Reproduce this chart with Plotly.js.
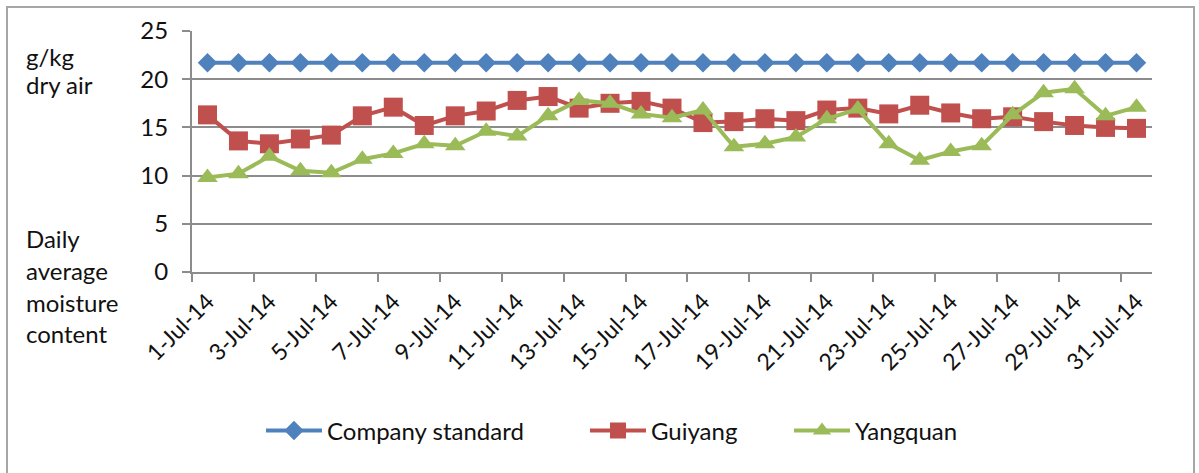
<!DOCTYPE html>
<html>
<head>
<meta charset="utf-8">
<script src="https://cdn.plot.ly/plotly-3.0.1.min.js"></script>
<style>
  html, body { margin: 0; padding: 0; background: #fff; }
  #wrap { position: relative; width: 1199px; height: 473px; overflow: hidden; }
  #chart { position: absolute; left: 0; top: 0; width: 1199px; height: 473px; }
  #frame { position: absolute; left: 6px; top: 6px; width: 1189px; height: 480px;
           border: 2px solid #a6a6a6; pointer-events: none; box-sizing: border-box; }
</style>
</head>
<body>
<div id="wrap">
  <div id="chart"></div>
  <div id="frame"></div>
</div>
<script>
const dates = ["1-Jul-14","2-Jul-14","3-Jul-14","4-Jul-14","5-Jul-14","6-Jul-14","7-Jul-14","8-Jul-14",
  "9-Jul-14","10-Jul-14","11-Jul-14","12-Jul-14","13-Jul-14","14-Jul-14","15-Jul-14","16-Jul-14",
  "17-Jul-14","18-Jul-14","19-Jul-14","20-Jul-14","21-Jul-14","22-Jul-14","23-Jul-14","24-Jul-14",
  "25-Jul-14","26-Jul-14","27-Jul-14","28-Jul-14","29-Jul-14","30-Jul-14","31-Jul-14"];

const companyStandard = [21.7,21.7,21.7,21.7,21.7,21.7,21.7,21.7,21.7,21.7,21.7,21.7,21.7,21.7,21.7,21.7,
  21.7,21.7,21.7,21.7,21.7,21.7,21.7,21.7,21.7,21.7,21.7,21.7,21.7,21.7,21.7];

const guiyang = [16.3,13.6,13.3,13.8,14.2,16.2,17.1,15.2,16.2,16.7,17.8,18.2,17.0,17.5,17.7,17.0,
  15.5,15.6,15.9,15.7,16.8,17.0,16.4,17.3,16.5,15.9,16.1,15.6,15.2,15.0,14.9];

const yangquan = [9.8,10.2,12.0,10.5,10.3,11.7,12.3,13.3,13.1,14.6,14.1,16.2,17.8,17.5,16.4,16.0,
  16.8,13.0,13.3,14.0,15.9,16.9,13.3,11.6,12.5,13.1,16.3,18.6,19.0,16.2,17.1];

const seriesNames = ["Company standard", "Guiyang", "Yangquan"];
const yTitleTop = ["g/kg", "dry air"];
const yTitleBottom = ["Daily", "average", "moisture", "content"];

const FONT = "Lato, 'Liberation Sans', sans-serif";
const TXT = "#111111";
const GRID = "#8c8c8c";
const FS = 24;

const W = 1199, H = 473;
const mL = 192, mR = 47, mT = 31, mB = 201;
const pw = W - mL - mR, ph = H - mT - mB;
const px = x => (x - mL) / pw;
const py = y => (H - mB - y) / ph;

const traces = [
  { x: dates, y: companyStandard, name: seriesNames[0], type: "scatter", mode: "lines+markers",
    legend: "legend",
    line: { color: "#4F81BD", width: 4 },
    marker: { symbol: "diamond", size: 15, color: "#4F81BD" } },
  { x: dates, y: guiyang, name: seriesNames[1], type: "scatter", mode: "lines+markers",
    legend: "legend2",
    line: { color: "#C0504D", width: 4 },
    marker: { symbol: "square", size: 19, color: "#C0504D" } },
  { x: dates, y: yangquan, name: seriesNames[2], type: "scatter", mode: "lines+markers",
    legend: "legend3",
    line: { color: "#9BBB59", width: 4 },
    marker: { symbol: "triangle-up", size: 18, color: "#9BBB59" } }
];

const annotations = [];
const topCenters = [57, 84];
yTitleTop.forEach((t, i) => annotations.push({
  text: t, xref: "paper", yref: "paper", x: px(24), y: py(topCenters[i]),
  xanchor: "left", yanchor: "middle", showarrow: false,
  font: { family: FONT, size: FS, color: TXT }
}));
const botCenters = [238, 270, 302, 333];
yTitleBottom.forEach((t, i) => annotations.push({
  text: t, xref: "paper", yref: "paper", x: px(24), y: py(botCenters[i]),
  xanchor: "left", yanchor: "middle", showarrow: false,
  font: { family: FONT, size: FS, color: TXT }
}));

const legendBase = lineStart => ({
  orientation: "h", x: px(lineStart - 6), y: py(431), xanchor: "left", yanchor: "middle",
  itemwidth: 56,
  font: { family: FONT, size: FS, color: TXT }, bgcolor: "rgba(0,0,0,0)"
});

const layout = {
  width: W, height: H,
  margin: { l: mL, r: mR, t: mT, b: mB, pad: 0 },
  paper_bgcolor: "#ffffff", plot_bgcolor: "#ffffff",
  font: { family: FONT, size: FS, color: TXT },
  showlegend: true,
  legend: legendBase(267),
  legend2: legendBase(591),
  legend3: legendBase(795),
  xaxis: {
    type: "category", range: [-0.5, 30.5], autorange: false,
    showline: true, linecolor: GRID, linewidth: 2,
    ticks: "outside", tickson: "boundaries", ticklen: 8, tickcolor: GRID, tickwidth: 2,
    dtick: 2, tick0: 0, tickangle: -45, showgrid: false, zeroline: false,
    tickfont: { family: FONT, size: 23, color: TXT }, ticklabelstandoff: 5, fixedrange: true
  },
  yaxis: {
    range: [0, 25], autorange: false, dtick: 5, tick0: 0,
    showline: true, linecolor: GRID, linewidth: 2,
    ticks: "outside", ticklen: 8, tickcolor: GRID, tickwidth: 2,
    showgrid: true, gridcolor: GRID, gridwidth: 2, zeroline: false,
    tickfont: { family: FONT, size: FS, color: TXT }, ticklabelstandoff: 9, fixedrange: true
  },
  annotations: annotations
};

Plotly.newPlot("chart", traces, layout, { displayModeBar: false, staticPlot: true });
</script>
</body>
</html>
